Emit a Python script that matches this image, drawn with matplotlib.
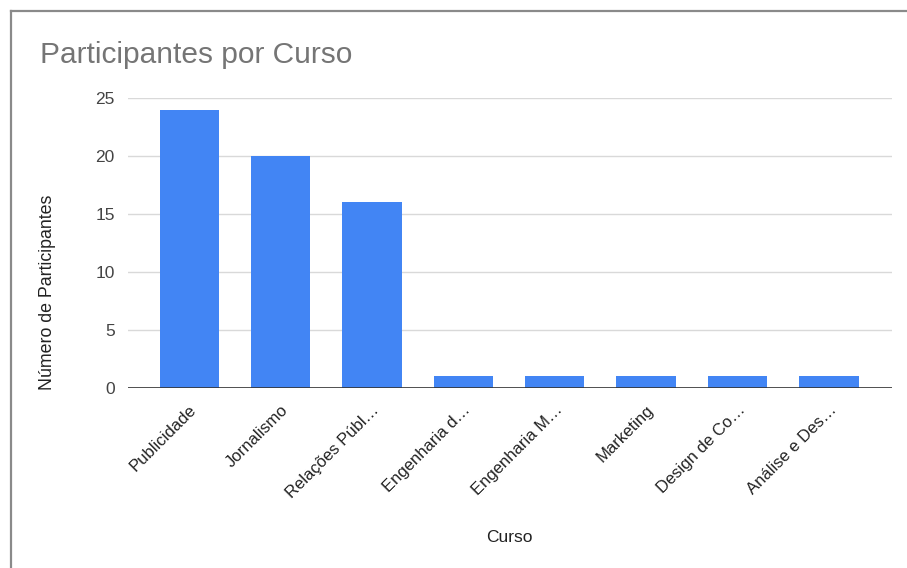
import matplotlib
matplotlib.use("Agg")
import matplotlib.pyplot as plt
import matplotlib.transforms as mtransforms
from matplotlib.lines import Line2D

cursos = ["Publicidade", "Jornalismo", "Relações Públ…", "Engenharia d…",
          "Engenharia M…", "Marketing", "Design de Co…", "Análise e Des…"]
participantes = [24, 20, 16, 1, 1, 1, 1, 1]
y_ticks = [0, 5, 10, 15, 20, 25]

plt.rcParams["font.family"] = ["Liberation Sans", "DejaVu Sans"]

W, H = 907, 568
fig = plt.figure(figsize=(W / 100, H / 100), dpi=100)
fig.patch.set_facecolor("white")

# card border (top and left edges)
fig.add_artist(Line2D([11 / W, 11 / W], [0, 1 - 11 / H], transform=fig.transFigure,
                      color="#8a8a8a", lw=1.6))
fig.add_artist(Line2D([11 / W, 1], [1 - 11 / H, 1 - 11 / H], transform=fig.transFigure,
                      color="#8a8a8a", lw=1.6))

left, right = 128 / W, 892 / W
bottom, top = 1 - 388 / H, 1 - 98 / H
ax = fig.add_axes([left, bottom, right - left, top - bottom])

x = list(range(len(cursos)))
ax.bar(x, participantes, width=0.65, color="#4285F4", zorder=3)

ax.set_xlim(-0.67, len(cursos) - 1 + 0.69)
ax.set_ylim(0, 25)
ax.set_yticks(y_ticks)
ax.yaxis.grid(True, color="#d9d9d9", lw=1.0, zorder=0)
ax.axhline(0, color="#333333", lw=1.2, zorder=4)

for s in ax.spines.values():
    s.set_visible(False)

ax.tick_params(axis="y", length=0, pad=9.5, labelsize=12.5, labelcolor="#444444")
ax.tick_params(axis="x", length=0, pad=14, labelsize=12, labelcolor="#222222")
ax.set_xticks(x)
ax.set_xticklabels(cursos, rotation=45, ha="right", va="center", rotation_mode="anchor")
offset = mtransforms.ScaledTranslation(5 / 100, 0, fig.dpi_scale_trans)
for lbl in ax.get_xticklabels():
    lbl.set_transform(lbl.get_transform() + offset)

fig.text(40 / W, 1 - 55 / H, "Participantes por Curso", fontsize=21.5, color="#757575",
         ha="left", va="center")
fig.text(48 / W, 1 - 292 / H, "Número de Participantes", fontsize=12.8, color="#222222",
         rotation=90, ha="center", va="center")
fig.text(509 / W, 1 - 537 / H, "Curso", fontsize=12.5, color="#222222",
         ha="center", va="center")

fig.savefig("out.png", dpi=100)
